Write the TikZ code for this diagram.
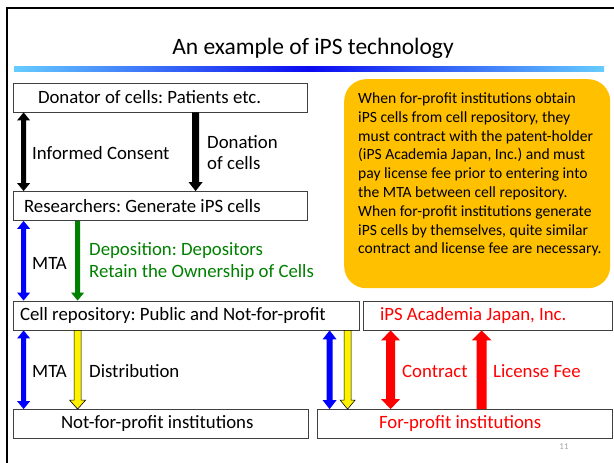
\documentclass[tikz,border=0pt]{standalone}
\usepackage{fontspec}
\setmainfont{Carlito}
\usetikzlibrary{calc}
\definecolor{gold}{HTML}{FFC000}
\definecolor{barlight}{HTML}{66CCFF}
\definecolor{bardark}{HTML}{0A0AF0}
\definecolor{dgreen}{RGB}{0,128,0}
\newcommand\boxfont{\fontsize{18.8}{22}\selectfont\frenchspacing}
\newcommand\notefont{\fontsize{15.6}{18.8}\selectfont\frenchspacing}
% block arrows: #1 style, #2 top point (gives x), #3 bottom point (gives y), #4 half shaft, #5 half head, #6 head length
\newcommand\blkdbl[6]{\path[#1] let \p1=(#2), \p2=(#3) in
  (\x1,\y1) -- (\x1+#5,\y1-#6) -- (\x1+#4,\y1-#6) -- (\x1+#4,\y2+#6) -- (\x1+#5,\y2+#6) -- (\x1,\y2)
  -- (\x1-#5,\y2+#6) -- (\x1-#4,\y2+#6) -- (\x1-#4,\y1-#6) -- (\x1-#5,\y1-#6) -- cycle;}
\newcommand\blkdown[6]{\path[#1] let \p1=(#2), \p2=(#3) in
  (\x1-#4,\y1) -- (\x1+#4,\y1) -- (\x1+#4,\y2+#6) -- (\x1+#5,\y2+#6) -- (\x1,\y2)
  -- (\x1-#5,\y2+#6) -- (\x1-#4,\y2+#6) -- cycle;}
\newcommand\blkup[6]{\path[#1] let \p1=(#2), \p2=(#3) in
  (\x1,\y1) -- (\x1+#5,\y1-#6) -- (\x1+#4,\y1-#6) -- (\x1+#4,\y2) -- (\x1-#4,\y2)
  -- (\x1-#4,\y1-#6) -- (\x1-#5,\y1-#6) -- cycle;}
\tikzset{
  every node/.append style={execute at begin node={\spaceskip=0pt\xspaceskip=0pt\relax}},
  box/.style={draw=black!75, line width=0.8pt, minimum height=29pt, inner ysep=0pt, align=left, font=\boxfont},
  lbl/.style={anchor=west, inner sep=0pt, font=\boxfont},
}
\begin{document}
\frenchspacing
\begin{tikzpicture}[x=1pt,y=-1pt]
\useasboundingbox (0,0) rectangle (614,463);
\fill[white] (0,0) rectangle (614,463);
% slide frame
\draw[line width=2pt] (7,463) -- (7,8.3) -- (614,8.3);
% title and bar
\node[font=\fontsize{23.5}{28}\selectfont, inner sep=0pt] (title) at (313,48) {An example of iPS technology};
\shade[left color=barlight, right color=barlight, middle color=bardark] (14,66) rectangle (604,71);
% boxes
\node[box, text width=244pt, inner xsep=25pt] (don) at (160,97.5) {Donator of cells: Patients etc.};
\node[box, text width=272pt, inner xsep=11pt] (res) at (160,206) {Researchers: Generate iPS cells};
\node[box, text width=332pt, inner xsep=7pt] (repo) at (186,315.5) {Cell repository: Public and Not-for-profit};
\node[box, text width=215pt, inner xsep=17pt, text=red] (acad) at (487.5,315.5) {iPS Academia Japan, Inc.};
\node[box, text width=199pt, inner xsep=48pt] (nfp) at (160.5,424) {Not-for-profit institutions};
\node[box, text width=171pt, inner xsep=62pt, text=red] (fp) at (464.5,424) {For-profit institutions};
% note
\node[fill=gold, rounded corners=22pt, minimum width=266pt, minimum height=209pt, anchor=north west, inner sep=0pt] (note) at (344,79) {};
\node[anchor=north west, inner sep=0pt, align=left, font=\notefont] (notetext) at (358,92.5)
 {When for-profit institutions obtain\\iPS cells from cell repository, they\\must contract with the patent-holder\\(iPS Academia Japan, Inc.) and must\\pay license fee prior to entering into\\the MTA between cell repository.\\When for-profit institutions generate\\iPS cells by themselves, quite similar\\contract and license fee are necessary.};
% arrows
\blkdbl{fill=black}{$(don.south west)+(11,0)$}{res.north}{2.5pt}{6.5pt}{8pt}
\blkdown{fill=black}{$(don.south west)+(183,0)$}{res.north}{3.5pt}{7pt}{9pt}
\blkdbl{fill=blue}{$(res.south west)+(11,0)$}{repo.north}{2.5pt}{6.5pt}{8pt}
\blkdown{fill=dgreen}{$(res.south west)+(65,0)$}{repo.north}{2.5pt}{6.5pt}{8pt}
\blkdbl{fill=blue}{$(repo.south west)+(11,0)$}{nfp.north}{2.5pt}{6.5pt}{8pt}
\blkdown{fill=yellow, draw=black, line width=0.6pt}{$(repo.south west)+(65,0)$}{nfp.north}{3.5pt}{8pt}{9pt}
\blkdbl{fill=blue}{$(repo.south west)+(317,0)$}{fp.north}{3pt}{7pt}{9pt}
\blkdown{fill=yellow, draw=black, line width=0.6pt}{$(repo.south west)+(335,0)$}{fp.north}{3.5pt}{7.5pt}{9pt}
\blkdbl{fill=red}{$(acad.south west)+(28,0)$}{fp.north}{4.5pt}{9.5pt}{10pt}
\blkup{fill=red}{$(acad.south west)+(119,0)$}{fp.north}{5pt}{10pt}{10pt}
% labels
\node[lbl] (ic) at (32,153) {Informed Consent};
\node[lbl, align=left, font=\fontsize{18.8}{21}\selectfont] (doc) at (207,152.5) {Donation\\of cells};
\node[lbl] (mta1) at (32,263) {MTA};
\node[lbl, align=left, text=dgreen] (dep) at (89,262) {Deposition: Depositors\\Retain the Ownership of Cells};
\node[lbl] (mta2) at (32,371) {MTA};
\node[lbl] (dist) at (89,371) {Distribution};
\node[lbl, text=red] (con) at (402,371) {Contract};
\node[lbl, text=red] (lic) at (493,371) {License Fee};
\node[text=gray!70, font=\fontsize{9}{10}\selectfont, inner sep=0pt] (pg) at (564,447) {11};
\end{tikzpicture}
\end{document}
